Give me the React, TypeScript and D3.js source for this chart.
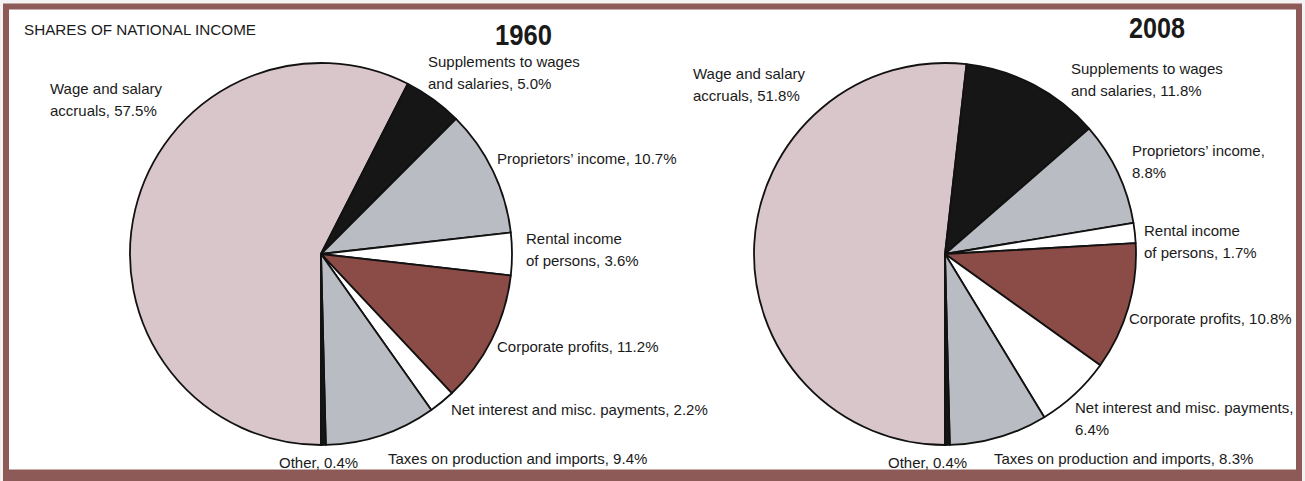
import React from "react";
import * as d3 from "d3";

const categories = [
  "Wage and salary accruals",
  "Supplements to wages and salaries",
  "Proprietors’ income",
  "Rental income of persons",
  "Corporate profits",
  "Net interest and misc. payments",
  "Taxes on production and imports",
  "Other",
];
const values1960 = [57.5, 5.0, 10.7, 3.6, 11.2, 2.2, 9.4, 0.4];
const values2008 = [51.8, 11.8, 8.8, 1.7, 10.8, 6.4, 8.3, 0.4];
const years = ["1960", "2008"];

const labels1960 = [
  ["Wage and salary", "accruals, 57.5%"],
  ["Supplements to wages", "and salaries, 5.0%"],
  ["Proprietors’ income, 10.7%"],
  ["Rental income", "of persons, 3.6%"],
  ["Corporate profits, 11.2%"],
  ["Net interest and misc. payments, 2.2%"],
  ["Taxes on production and imports, 9.4%"],
  ["Other, 0.4%"],
];
const labels2008 = [
  ["Wage and salary", "accruals, 51.8%"],
  ["Supplements to wages", "and salaries, 11.8%"],
  ["Proprietors’ income,", "8.8%"],
  ["Rental income", "of persons, 1.7%"],
  ["Corporate profits, 10.8%"],
  ["Net interest and misc. payments,", "6.4%"],
  ["Taxes on production and imports, 8.3%"],
  ["Other, 0.4%"],
];

const colors = ["#d9c6ca", "#161616", "#b9bcc2", "#ffffff", "#8b4b46", "#ffffff", "#b9bcc2", "#161616"];

const FONT = "'Liberation Sans', Arial, Helvetica, sans-serif";

const pos1960: [number, number][] = [
  [50, 94], [428, 67], [497, 164], [526, 244], [497, 352], [451, 415], [388, 464], [279, 468],
];
const pos2008: [number, number][] = [
  [693, 79], [1071, 74], [1132, 156], [1144, 236], [1129, 324], [1075, 413], [994, 464], [888, 468],
];

function Pie({ values, cx, cy, r }: { values: number[]; cx: number; cy: number; r: number }) {
  const pie = d3.pie<number>().sort(null).startAngle(Math.PI).endAngle(3 * Math.PI);
  const arc = d3.arc<d3.PieArcDatum<number>>().innerRadius(0).outerRadius(r);
  const arcs = pie(values);
  return (
    <g transform={`translate(${cx},${cy})`}>
      {arcs.map((a, i) => (
        <path key={i} d={arc(a) || ""} fill={colors[i]} stroke="#111" strokeWidth={1.8} strokeLinejoin="round" />
      ))}
    </g>
  );
}

function Labels({ lines, pos }: { lines: string[][]; pos: [number, number][] }) {
  return (
    <g fontFamily={FONT} fontSize={15} fill="#1a1a1a">
      {lines.map((ls, i) => (
        <text key={i} x={pos[i][0]} y={pos[i][1]}>
          {ls.map((l, j) => (
            <tspan key={j} x={pos[i][0]} dy={j === 0 ? 0 : 22}>
              {l}
            </tspan>
          ))}
        </text>
      ))}
    </g>
  );
}

export default function App() {
  const W = 1305;
  const H = 481;
  return (
    <svg width={W} height={H} style={{ position: "absolute", left: 0, top: 0, display: "block" }}>
      <rect x={0} y={0} width={W} height={H} fill="#f4f2f2" />
      <rect x={6} y={6.5} width={1293} height={466} fill="#ffffff" stroke="#8d5a57" strokeWidth={6} />
      <rect x={3} y={470} width={1299} height={11} fill="#8d5a57" />
      <text x={24} y={35} fontFamily={FONT} fontSize={15} fill="#1a1a1a" textLength={232} lengthAdjust="spacingAndGlyphs">
        SHARES OF NATIONAL INCOME
      </text>
      <text x={495} y={45} fontFamily={FONT} fontWeight="bold" fontSize={30} fill="#1a1a1a" textLength={57} lengthAdjust="spacingAndGlyphs">
        {years[0]}
      </text>
      <text x={1129} y={38} fontFamily={FONT} fontWeight="bold" fontSize={30} fill="#1a1a1a" textLength={56} lengthAdjust="spacingAndGlyphs">
        {years[1]}
      </text>
      <Pie values={values1960} cx={321} cy={254} r={191} />
      <Pie values={values2008} cx={945} cy={254} r={191} />
      <Labels lines={labels1960} pos={pos1960} />
      <Labels lines={labels2008} pos={pos2008} />
    </svg>
  );
}
